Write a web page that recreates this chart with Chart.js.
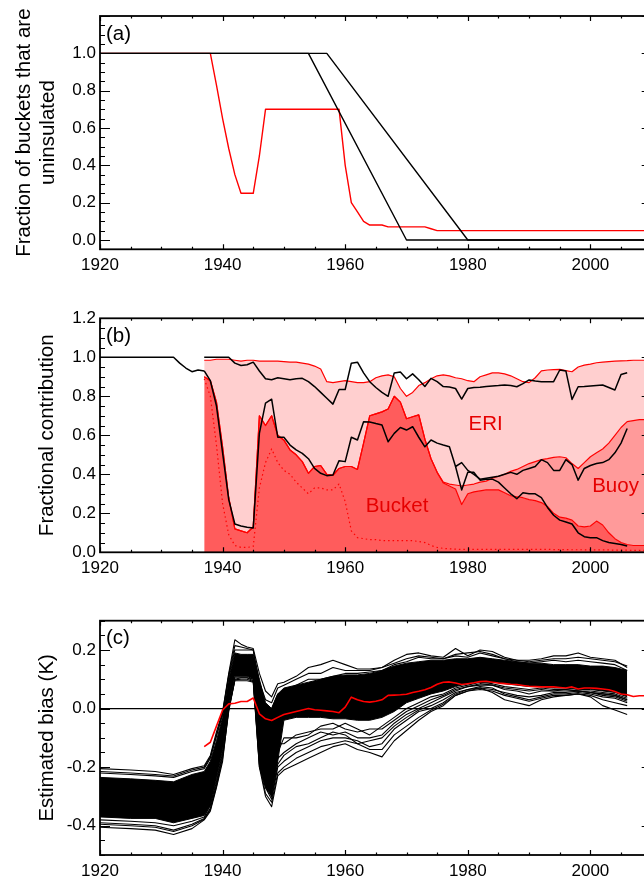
<!DOCTYPE html>
<html lang="en">
<head>
<meta charset="UTF-8">
<title>Bucket fractions and estimated bias</title>
<script src="https://cdn.jsdelivr.net/npm/chart.js"></script>
<style>
    html, body { margin: 0; padding: 0; background: #fff; overflow: hidden; }
    body { width: 644px; height: 879px; position: relative; }
    canvas { position: absolute; left: 0; }
    #ca { top: 0; }
    #cb { top: 300px; }
    #cc { top: 600px; }
</style>
</head>
<body>
<canvas id="ca" width="660" height="290"></canvas>
<canvas id="cb" width="660" height="290"></canvas>
<canvas id="cc" width="660" height="279"></canvas>
<script>
// ---- tick labels ----
const xTicks = [1920, 1940, 1960, 1980, 2000];
const yTicksA = [0, 0.2, 0.4, 0.6, 0.8, 1.0];
const yTicksB = [0, 0.2, 0.4, 0.6, 0.8, 1.0, 1.2];
const yTicksC = [-0.4, -0.2, 0, 0.2];

// ---- panel (a): fraction of buckets uninsulated ----
const aBlack1X = [1920, 1954, 1970, 2010];
const aBlack1Y = [1, 1, 0, 0];
const aBlack2X = [1920, 1957, 1980, 2010];
const aBlack2Y = [1, 1, 0, 0];
const aRedX = [1920, 1938, 1939, 1940, 1941, 1942, 1943, 1945, 1946, 1947, 1959, 1960, 1961, 1962, 1963, 1964, 1966, 1967, 1973, 1974, 1975, 2010];
const aRedY = [1.0, 1.0, 0.83, 0.65, 0.49, 0.35, 0.25, 0.25, 0.45, 0.70, 0.70, 0.40, 0.20, 0.15, 0.10, 0.08, 0.08, 0.07, 0.07, 0.06, 0.05, 0.05];

// ---- panel (b): fractional contribution ----
const yrsB = [1937, 1938, 1939, 1940, 1941, 1942, 1943, 1944, 1945, 1946,
    1947, 1948, 1949, 1950, 1951, 1952, 1953, 1954, 1955, 1956,
    1957, 1958, 1959, 1960, 1961, 1962, 1963, 1964, 1965, 1966,
    1967, 1968, 1969, 1970, 1971, 1972, 1973, 1974, 1975, 1976,
    1977, 1978, 1979, 1980, 1981, 1982, 1983, 1984, 1985, 1986,
    1987, 1988, 1989, 1990, 1991, 1992, 1993, 1994, 1995, 1996,
    1997, 1998, 1999, 2000, 2001, 2002, 2003, 2004, 2005, 2006,
    2007, 2008, 2009, 2010];
const eriTop = [0.985, 0.985, 0.99, 0.99, 0.99, 0.985, 0.98, 0.985, 0.985, 0.98,
    0.98, 0.98, 0.98, 0.978, 0.975, 0.975, 0.97, 0.965, 0.955, 0.94,
    0.875, 0.87, 0.875, 0.88, 0.875, 0.87, 0.87, 0.875, 0.895, 0.905,
    0.91, 0.90, 0.84, 0.80, 0.82, 0.855, 0.87, 0.89, 0.905, 0.91,
    0.905, 0.895, 0.89, 0.88, 0.875, 0.90, 0.91, 0.92, 0.92, 0.915,
    0.905, 0.89, 0.875, 0.87, 0.895, 0.93, 0.935, 0.937, 0.938, 0.932,
    0.926, 0.95, 0.96, 0.965, 0.972, 0.975, 0.978, 0.98, 0.982, 0.983,
    0.985, 0.985, 0.985, 0.985];
const buoyTop = [0.90, 0.88, 0.77, 0.54, 0.28, 0.12, 0.11, 0.10, 0.13, 0.70,
    0.65, 0.70, 0.60, 0.575, 0.525, 0.50, 0.465, 0.405, 0.44, 0.445,
    0.40, 0.395, 0.43, 0.44, 0.44, 0.425, 0.56, 0.70, 0.71, 0.72,
    0.735, 0.80, 0.77, 0.685, 0.695, 0.705, 0.58, 0.48, 0.41, 0.36,
    0.35, 0.345, 0.34, 0.345, 0.35, 0.36, 0.365, 0.38, 0.39, 0.40,
    0.415, 0.425, 0.44, 0.455, 0.465, 0.475, 0.48, 0.487, 0.49, 0.485,
    0.455, 0.43, 0.46, 0.49, 0.51, 0.53, 0.56, 0.60, 0.64, 0.67,
    0.675, 0.68, 0.68, 0.68];
const bucketB = [0.90, 0.88, 0.77, 0.54, 0.28, 0.12, 0.11, 0.10, 0.13, 0.70,
    0.65, 0.70, 0.60, 0.575, 0.525, 0.50, 0.465, 0.405, 0.44, 0.445,
    0.40, 0.395, 0.43, 0.44, 0.44, 0.425, 0.56, 0.70, 0.71, 0.72,
    0.735, 0.80, 0.77, 0.685, 0.695, 0.705, 0.58, 0.48, 0.41, 0.355,
    0.34, 0.325, 0.245, 0.30, 0.31, 0.315, 0.32, 0.32, 0.32, 0.305,
    0.29, 0.285, 0.28, 0.27, 0.265, 0.255, 0.235, 0.20, 0.18, 0.175,
    0.165, 0.135, 0.13, 0.135, 0.16, 0.14, 0.10, 0.07, 0.05, 0.04,
    0.035, 0.035, 0.035, 0.035];
const uninsB = [0.89, 0.80, 0.55, 0.25, 0.09, 0.035, 0.025, 0.025, 0.03, 0.33,
    0.46, 0.53, 0.46, 0.42, 0.40, 0.36, 0.33, 0.30, 0.33, 0.33,
    0.32, 0.32, 0.35, 0.26, 0.11, 0.075, 0.07, 0.065, 0.065, 0.06,
    0.06, 0.06, 0.06, 0.06, 0.06, 0.055, 0.05, 0.035, 0.025, 0.02,
    0.018, 0.016, 0.015, 0.015, 0.015, 0.015, 0.015, 0.015, 0.015, 0.015,
    0.015, 0.015, 0.015, 0.015, 0.015, 0.015, 0.015, 0.014, 0.014, 0.014,
    0.013, 0.013, 0.013, 0.012, 0.012, 0.012, 0.012, 0.011, 0.011, 0.011,
    0.01, 0.01, 0.01, 0.01];
const blackA = [1.0, 1.0, 1.0, 1.0, 1.0, 0.97, 0.958, 0.962, 0.975, 0.93,
    0.89, 0.885, 0.895, 0.89, 0.885, 0.89, 0.892, 0.875, 0.85, 0.82,
    0.79, 0.76, 0.835, 0.835, 0.97, 0.975, 0.92, 0.875, 0.845, 0.82,
    0.80, 0.92, 0.925, 0.89, 0.915, 0.885, 0.85, 0.892, 0.875, 0.85,
    0.848, 0.84, 0.786, 0.84, 0.845, 0.846, 0.85, 0.853, 0.855, 0.858,
    0.855, 0.849, 0.865, 0.884, 0.878, 0.875, 0.875, 0.875, 0.935, 0.93,
    0.784, 0.849, 0.85, 0.853, 0.856, 0.858, 0.845, 0.832, 0.912, 0.921,
    null, null, null, null];
const blackB = [0.93, 0.88, 0.75, 0.51, 0.27, 0.145, 0.135, 0.128, 0.125, 0.61,
    0.765, 0.785, 0.59, 0.59, 0.55, 0.525, 0.507, 0.48, 0.43, 0.405,
    0.393, 0.396, 0.47, 0.465, 0.59, 0.576, 0.67, 0.668, 0.66, 0.653,
    0.567, 0.61, 0.64, 0.627, 0.644, 0.59, 0.541, 0.576, 0.56, 0.55,
    0.541, 0.44, 0.46, 0.42, 0.40, 0.375, 0.38, 0.385, 0.39, 0.40,
    0.41, 0.40, 0.42, 0.43, 0.44, 0.475, 0.46, 0.42, 0.42, 0.475,
    0.45, 0.37, 0.43, 0.445, 0.455, 0.46, 0.475, 0.51, 0.56, 0.635,
    null, null, null, null];
const blackPreX = [1920, 1932, 1933, 1934, 1935, 1936, 1937];
const blackPreY = [1.0, 1.0, 0.97, 0.945, 0.926, 0.935, 0.93];
const yrsBC = [1978, 1979, 1980, 1981, 1982, 1983, 1984, 1985, 1986,
    1987, 1988, 1989, 1990, 1991, 1992, 1993, 1994, 1995, 1996,
    1997, 1998, 1999, 2000, 2001, 2002, 2003, 2004, 2005, 2006];
const blackC = [0.44, 0.32, 0.41, 0.41, 0.37, 0.375, 0.375, 0.36, 0.33,
    0.30, 0.275, 0.305, 0.30, 0.30, 0.28, 0.23, 0.19, 0.165, 0.155,
    0.145, 0.10, 0.08, 0.075, 0.075, 0.06, 0.05, 0.045, 0.04, 0.032];

// ---- panel (c): estimated bias ----
const redC = [-0.13, -0.115, -0.06, -0.005, 0.016, 0.018, 0.024, 0.024, 0.036, -0.018,
    -0.035, -0.041, -0.03, -0.02, -0.015, -0.01, -0.005, 0.0, -0.004, -0.006,
    -0.008, -0.01, -0.014, 0.005, 0.039, 0.03, 0.024, 0.022, 0.025, 0.03,
    0.045, 0.046, 0.047, 0.049, 0.055, 0.059, 0.064, 0.072, 0.083, 0.09,
    0.091, 0.087, 0.082, 0.085, 0.088, 0.092, 0.093, 0.09, 0.087, 0.085,
    0.083, 0.082, 0.079, 0.076, 0.075, 0.074, 0.074, 0.074, 0.072, 0.07,
    0.074, 0.067, 0.07, 0.07, 0.069, 0.067, 0.064, 0.058, 0.05, 0.047,
    0.041, 0.044, 0.044, 0.044];
const zeroX = [1920, 2010];
const zeroY = [0, 0];
const yrsC = [1920, 1925, 1929, 1932, 1935, 1937, 1938, 1939, 1940, 1941,
    1942, 1943, 1944, 1945, 1946, 1947, 1948, 1949, 1950, 1952,
    1954, 1956, 1958, 1960, 1962, 1964, 1966, 1968, 1970, 1972,
    1974, 1976, 1978, 1980, 1982, 1984, 1986, 1988, 1990, 1992,
    1994, 1996, 1998, 2000, 2002, 2004, 2006];
// dense core of the ensemble (upper / lower edge)
const bandHi = [-0.235, -0.24, -0.245, -0.25, -0.225, -0.215, -0.18, -0.11, -0.03, 0.10,
    0.19, 0.185, 0.185, 0.185, 0.10, 0.02, 0.0, 0.05, 0.07, 0.08,
    0.09, 0.10, 0.11, 0.115, 0.115, 0.12, 0.13, 0.145, 0.155, 0.16,
    0.165, 0.165, 0.17, 0.17, 0.175, 0.17, 0.165, 0.16, 0.155, 0.155,
    0.15, 0.15, 0.15, 0.145, 0.145, 0.14, 0.13];
const bandLo = [-0.37, -0.375, -0.375, -0.39, -0.375, -0.365, -0.33, -0.24, -0.14, 0.01,
    0.11, 0.11, 0.11, 0.10, -0.20, -0.27, -0.30, -0.18, -0.04, -0.03,
    -0.03, -0.03, -0.035, -0.035, -0.04, -0.04, -0.03, -0.01, 0.02, 0.035,
    0.05, 0.06, 0.075, 0.085, 0.09, 0.09, 0.085, 0.08, 0.075, 0.075,
    0.07, 0.07, 0.065, 0.065, 0.06, 0.055, 0.04];
// individual members standing out of the core
const memTop = [-0.205, -0.21, -0.215, -0.225, -0.205, -0.195, -0.16, -0.08, -0.01, 0.12,
    0.235, 0.22, 0.21, 0.205, 0.12, 0.06, 0.04, 0.085, 0.09, 0.11,
    0.14, 0.15, 0.165, 0.15, 0.135, 0.135, 0.14, 0.165, 0.185, 0.19,
    0.18, 0.175, 0.205, 0.18, 0.20, 0.195, 0.175, 0.165, 0.165, 0.17,
    0.18, 0.18, 0.19, 0.175, 0.17, 0.165, 0.14];
const memHi2 = [-0.22, -0.225, -0.23, -0.235, -0.215, -0.205, -0.17, -0.095, -0.02, 0.11,
    0.20, 0.20, 0.20, 0.20, 0.05, -0.01, 0.0, 0.05, 0.06, 0.08,
    0.10, 0.10, 0.11, 0.12, 0.12, 0.125, 0.13, 0.15, 0.16, 0.175,
    0.17, 0.17, 0.18, 0.175, 0.19, 0.18, 0.17, 0.16, 0.155, 0.16,
    0.165, 0.16, 0.165, 0.16, 0.155, 0.15, 0.13];
const memHi3 = [-0.215, -0.22, -0.225, -0.23, -0.21, -0.2, -0.165, -0.09, -0.015, 0.115,
    0.215, 0.21, 0.205, 0.2, 0.09, 0.03, 0.02, 0.07, 0.08, 0.1,
    0.12, 0.12, 0.14, 0.13, 0.13, 0.13, 0.14, 0.155, 0.17, 0.18,
    0.175, 0.17, 0.185, 0.19, 0.195, 0.185, 0.17, 0.165, 0.16, 0.165,
    0.17, 0.17, 0.175, 0.17, 0.165, 0.16, 0.145];
const memMid1 = [-0.30, -0.30, -0.31, -0.32, -0.30, -0.29, -0.25, -0.17, -0.08, 0.06,
    0.15, 0.15, 0.15, 0.14, -0.05, -0.15, -0.25, -0.17, -0.15, -0.12,
    -0.10, -0.08, -0.09, -0.08, -0.10, -0.10, -0.09, -0.05, -0.02, 0.0,
    0.02, 0.04, 0.06, 0.075, 0.085, 0.08, 0.065, 0.06, 0.05, 0.06,
    0.06, 0.065, 0.06, 0.055, 0.05, 0.045, 0.03];
const memMid2 = [-0.355, -0.36, -0.365, -0.38, -0.36, -0.35, -0.30, -0.22, -0.12, 0.03,
    0.13, 0.13, 0.13, 0.12, -0.10, -0.20, -0.22, -0.12, -0.12, -0.09,
    -0.08, -0.07, -0.07, -0.05, -0.07, -0.09, -0.06, -0.03, 0.0, 0.02,
    0.04, 0.05, 0.07, 0.08, 0.09, 0.085, 0.075, 0.07, 0.065, 0.07,
    0.065, 0.065, 0.06, 0.06, 0.055, 0.05, 0.035];
const memMid3 = [-0.33, -0.335, -0.34, -0.35, -0.33, -0.32, -0.28, -0.2, -0.1, 0.04,
    0.14, 0.14, 0.14, 0.13, -0.08, -0.18, -0.26, -0.15, -0.1, -0.1,
    -0.09, -0.06, -0.05, -0.07, -0.08, -0.07, -0.07, -0.04, -0.01, 0.01,
    0.03, 0.045, 0.065, 0.075, 0.08, 0.08, 0.07, 0.065, 0.06, 0.065,
    0.06, 0.06, 0.06, 0.055, 0.05, 0.045, 0.03];
const memLow1 = [-0.38, -0.385, -0.39, -0.4, -0.385, -0.37, -0.33, -0.25, -0.15, 0.0,
    0.105, 0.105, 0.105, 0.1, -0.16, -0.25, -0.3, -0.19, -0.16, -0.13,
    -0.12, -0.1, -0.08, -0.09, -0.12, -0.11, -0.1, -0.06, -0.03, -0.005,
    0.01, 0.03, 0.055, 0.065, 0.07, 0.065, 0.055, 0.045, 0.04, 0.045,
    0.055, 0.055, 0.06, 0.055, 0.045, 0.04, 0.025];
const memLow2 = [-0.39, -0.395, -0.40, -0.415, -0.395, -0.375, -0.34, -0.26, -0.16, -0.005,
    0.10, 0.105, 0.105, 0.095, -0.17, -0.27, -0.31, -0.20, -0.18, -0.15,
    -0.13, -0.11, -0.10, -0.10, -0.11, -0.13, -0.12, -0.07, -0.04, -0.01,
    0.0, 0.02, 0.05, 0.065, 0.075, 0.07, 0.05, 0.04, 0.03, 0.04,
    0.05, 0.05, 0.055, 0.05, 0.04, 0.035, 0.02];
const memLow3 = [-0.395, -0.4, -0.405, -0.42, -0.4, -0.378, -0.345, -0.265, -0.17, -0.01,
    0.098, 0.1, 0.1, 0.092, -0.19, -0.29, -0.32, -0.22, -0.2, -0.17,
    -0.15, -0.13, -0.12, -0.11, -0.12, -0.14, -0.14, -0.09, -0.06, -0.03,
    -0.005, 0.015, 0.045, 0.06, 0.065, 0.06, 0.045, 0.035, 0.025, 0.035,
    0.045, 0.045, 0.05, 0.045, 0.03, 0.02, 0.01];
const memBot = [-0.405, -0.41, -0.415, -0.43, -0.41, -0.38, -0.35, -0.27, -0.18, 0.0,
    0.095, 0.095, 0.095, 0.09, -0.20, -0.30, -0.335, -0.23, -0.21, -0.19,
    -0.17, -0.15, -0.13, -0.12, -0.14, -0.15, -0.165, -0.11, -0.075, -0.04,
    -0.01, 0.01, 0.045, 0.06, 0.07, 0.055, 0.03, 0.02, 0.01, 0.03,
    0.04, 0.045, 0.05, 0.04, 0.01, -0.005, -0.02];

// ---- helpers ----
function pts(xs, ys) {
    return xs.map(function (x, i) { return {x: x, y: ys[i]}; });
}

Chart.defaults.font.family = "'Liberation Sans', Arial, Helvetica, sans-serif";
Chart.defaults.color = '#000';

// IDL-like box with inward ticks, panel letter and text labels
const frame = {
    id: 'frame',
    afterDatasetsDraw(chart, args, o) {
        const ctx = chart.ctx;
        const a = chart.chartArea;
        const x = chart.scales.x, y = chart.scales.y;
        ctx.save();
        ctx.strokeStyle = '#000';
        ctx.lineWidth = 1.2;
        ctx.beginPath();
        const nx = Math.round((x.max - x.min) / 5);
        for (let i = 0; i <= nx; i++) {
            const v = x.min + i * 5;
            const len = (i % 4 === 0) ? 5 : 2.5;
            const px = Math.round(x.getPixelForValue(v)) + 0.5;
            ctx.moveTo(px, a.bottom); ctx.lineTo(px, a.bottom - len);
            ctx.moveTo(px, a.top); ctx.lineTo(px, a.top + len);
        }
        const ny = Math.round((y.max - y.min) / 0.05);
        for (let j = 0; j <= ny; j++) {
            const v = y.min + j * 0.05;
            const r = v / 0.2;
            const major = Math.abs(r - Math.round(r)) < 1e-6;
            const len = major ? 10 : 5;
            const py = Math.round(y.getPixelForValue(v)) + 0.5;
            ctx.moveTo(a.left, py); ctx.lineTo(a.left + len, py);
            ctx.moveTo(a.right, py); ctx.lineTo(a.right - len, py);
        }
        ctx.stroke();
        ctx.lineWidth = 1.8;
        ctx.strokeRect(a.left, a.top, a.right - a.left, a.bottom - a.top);

        ctx.fillStyle = '#000';
        ctx.font = "20.5px 'Liberation Sans', Arial, sans-serif";
        ctx.textAlign = 'left';
        ctx.textBaseline = 'middle';
        ctx.fillText(o.label, a.left + 6, a.top + 18);

        (o.texts || []).forEach(function (t) {
            ctx.fillStyle = '#e60000';
            ctx.textAlign = 'center';
            ctx.fillText(t.text, x.getPixelForValue(t.x), y.getPixelForValue(t.y));
        });
        ctx.restore();
    }
};

function xAxis(h) {
    return {
        type: 'linear', min: 1920, max: 2010,
        afterBuildTicks: function (s) { s.ticks = xTicks.map(function (v) { return {value: v}; }); },
        afterFit: function (s) { s.height = h; },
        grid: {display: false, drawTicks: false, tickLength: 0},
        border: {display: false},
        ticks: {padding: 6, color: '#000', font: {size: 17}, maxRotation: 0, autoSkip: false,
            callback: function (v) { return String(v); }}
    };
}

function yAxis(min, max, vals, title, pad) {
    return {
        type: 'linear', min: min, max: max,
        afterBuildTicks: function (s) { s.ticks = vals.map(function (v) { return {value: v}; }); },
        afterFit: function (s) { s.width = 100; },
        grid: {display: false, drawTicks: false, tickLength: 0},
        border: {display: false},
        ticks: {padding: 4, color: '#000', font: {size: 17}, autoSkip: false,
            callback: function (v) { return Number(v).toFixed(1); }},
        title: {display: true, text: title, color: '#000',
            font: {size: 20.5, lineHeight: 1.17}, padding: {top: pad, bottom: 0}}
    };
}

function baseOptions(top, xh, yax, frameOpts) {
    return {
        responsive: false,
        animation: false,
        devicePixelRatio: 1,
        events: [],
        layout: {padding: {top: top, right: 8.3, left: 0, bottom: 0}},
        elements: {point: {radius: 0}, line: {tension: 0, borderJoinStyle: 'round'}},
        plugins: {
            legend: {display: false},
            tooltip: {enabled: false},
            filler: {drawTime: 'beforeDatasetsDraw'},
            frame: frameOpts
        },
        scales: {x: xAxis(xh), y: yax}
    };
}

// panel (a)
new Chart(document.getElementById('ca'), {
    type: 'line',
    data: {
        datasets: [
            {data: pts(aBlack1X, aBlack1Y), borderColor: '#000', borderWidth: 1.4},
            {data: pts(aBlack2X, aBlack2Y), borderColor: '#000', borderWidth: 1.4},
            {data: pts(aRedX, aRedY), borderColor: '#ff0000', borderWidth: 1.4}
        ]
    },
    options: baseOptions(16, 40.7,
        yAxis(-0.05, 1.2, yTicksA, ['Fraction of buckets that are', 'uninsulated'], 12),
        {label: '(a)'}),
    plugins: [frame]
});

// panel (b)
new Chart(document.getElementById('cb'), {
    type: 'line',
    data: {
        datasets: [
            {data: pts(yrsB, blackA), borderColor: '#000', borderWidth: 1.5},
            {data: pts(yrsB, blackB), borderColor: '#000', borderWidth: 1.5},
            {data: pts(blackPreX, blackPreY), borderColor: '#000', borderWidth: 1.5},
            {data: pts(yrsBC, blackC), borderColor: '#000', borderWidth: 1.5},
            {data: pts(yrsB, uninsB), borderColor: '#ff0000', borderWidth: 1.2, borderDash: [1.5, 3]},
            {data: pts(yrsB, eriTop), borderColor: '#ff0000', borderWidth: 1.2, backgroundColor: '#ffcfcf', fill: '+1'},
            {data: pts(yrsB, buoyTop), borderColor: '#ff0000', borderWidth: 1.2, backgroundColor: '#ff9a9a', fill: '+1'},
            {data: pts(yrsB, bucketB), borderColor: '#ff0000', borderWidth: 1.2, backgroundColor: '#ff5c5c', fill: 'origin'}
        ]
    },
    options: baseOptions(18.3, 37.7,
        yAxis(0, 1.2, yTicksB, 'Fractional contribution', 35),
        {label: '(b)', texts: [
            {text: 'ERI', x: 1982.9, y: 0.658},
            {text: 'Bucket', x: 1968.45, y: 0.237},
            {text: 'Buoy', x: 2004.1, y: 0.337}
        ]}),
    plugins: [frame]
});

// panel (c)
const members = [memTop, memHi2, memHi3, memMid1, memMid2, memMid3, memLow1, memLow2, memLow3, memBot];
const dsC = [
    {data: pts(yrsB, redC), borderColor: '#ff0000', borderWidth: 1.6},
    {data: pts(zeroX, zeroY), borderColor: '#000', borderWidth: 1.3}
];
members.forEach(function (m) {
    dsC.push({data: pts(yrsC, m), borderColor: '#000', borderWidth: 1.1});
});
dsC.push({data: pts(yrsC, bandHi), borderColor: '#000', borderWidth: 1, backgroundColor: '#000', fill: '+1'});
dsC.push({data: pts(yrsC, bandLo), borderColor: '#000', borderWidth: 1});

new Chart(document.getElementById('cc'), {
    type: 'line',
    data: {datasets: dsC},
    options: baseOptions(20.7, 24,
        yAxis(-0.5, 0.3, yTicksC, 'Estimated bias (K)', 35),
        {label: '(c)'}),
    plugins: [frame]
});
</script>
</body>
</html>
